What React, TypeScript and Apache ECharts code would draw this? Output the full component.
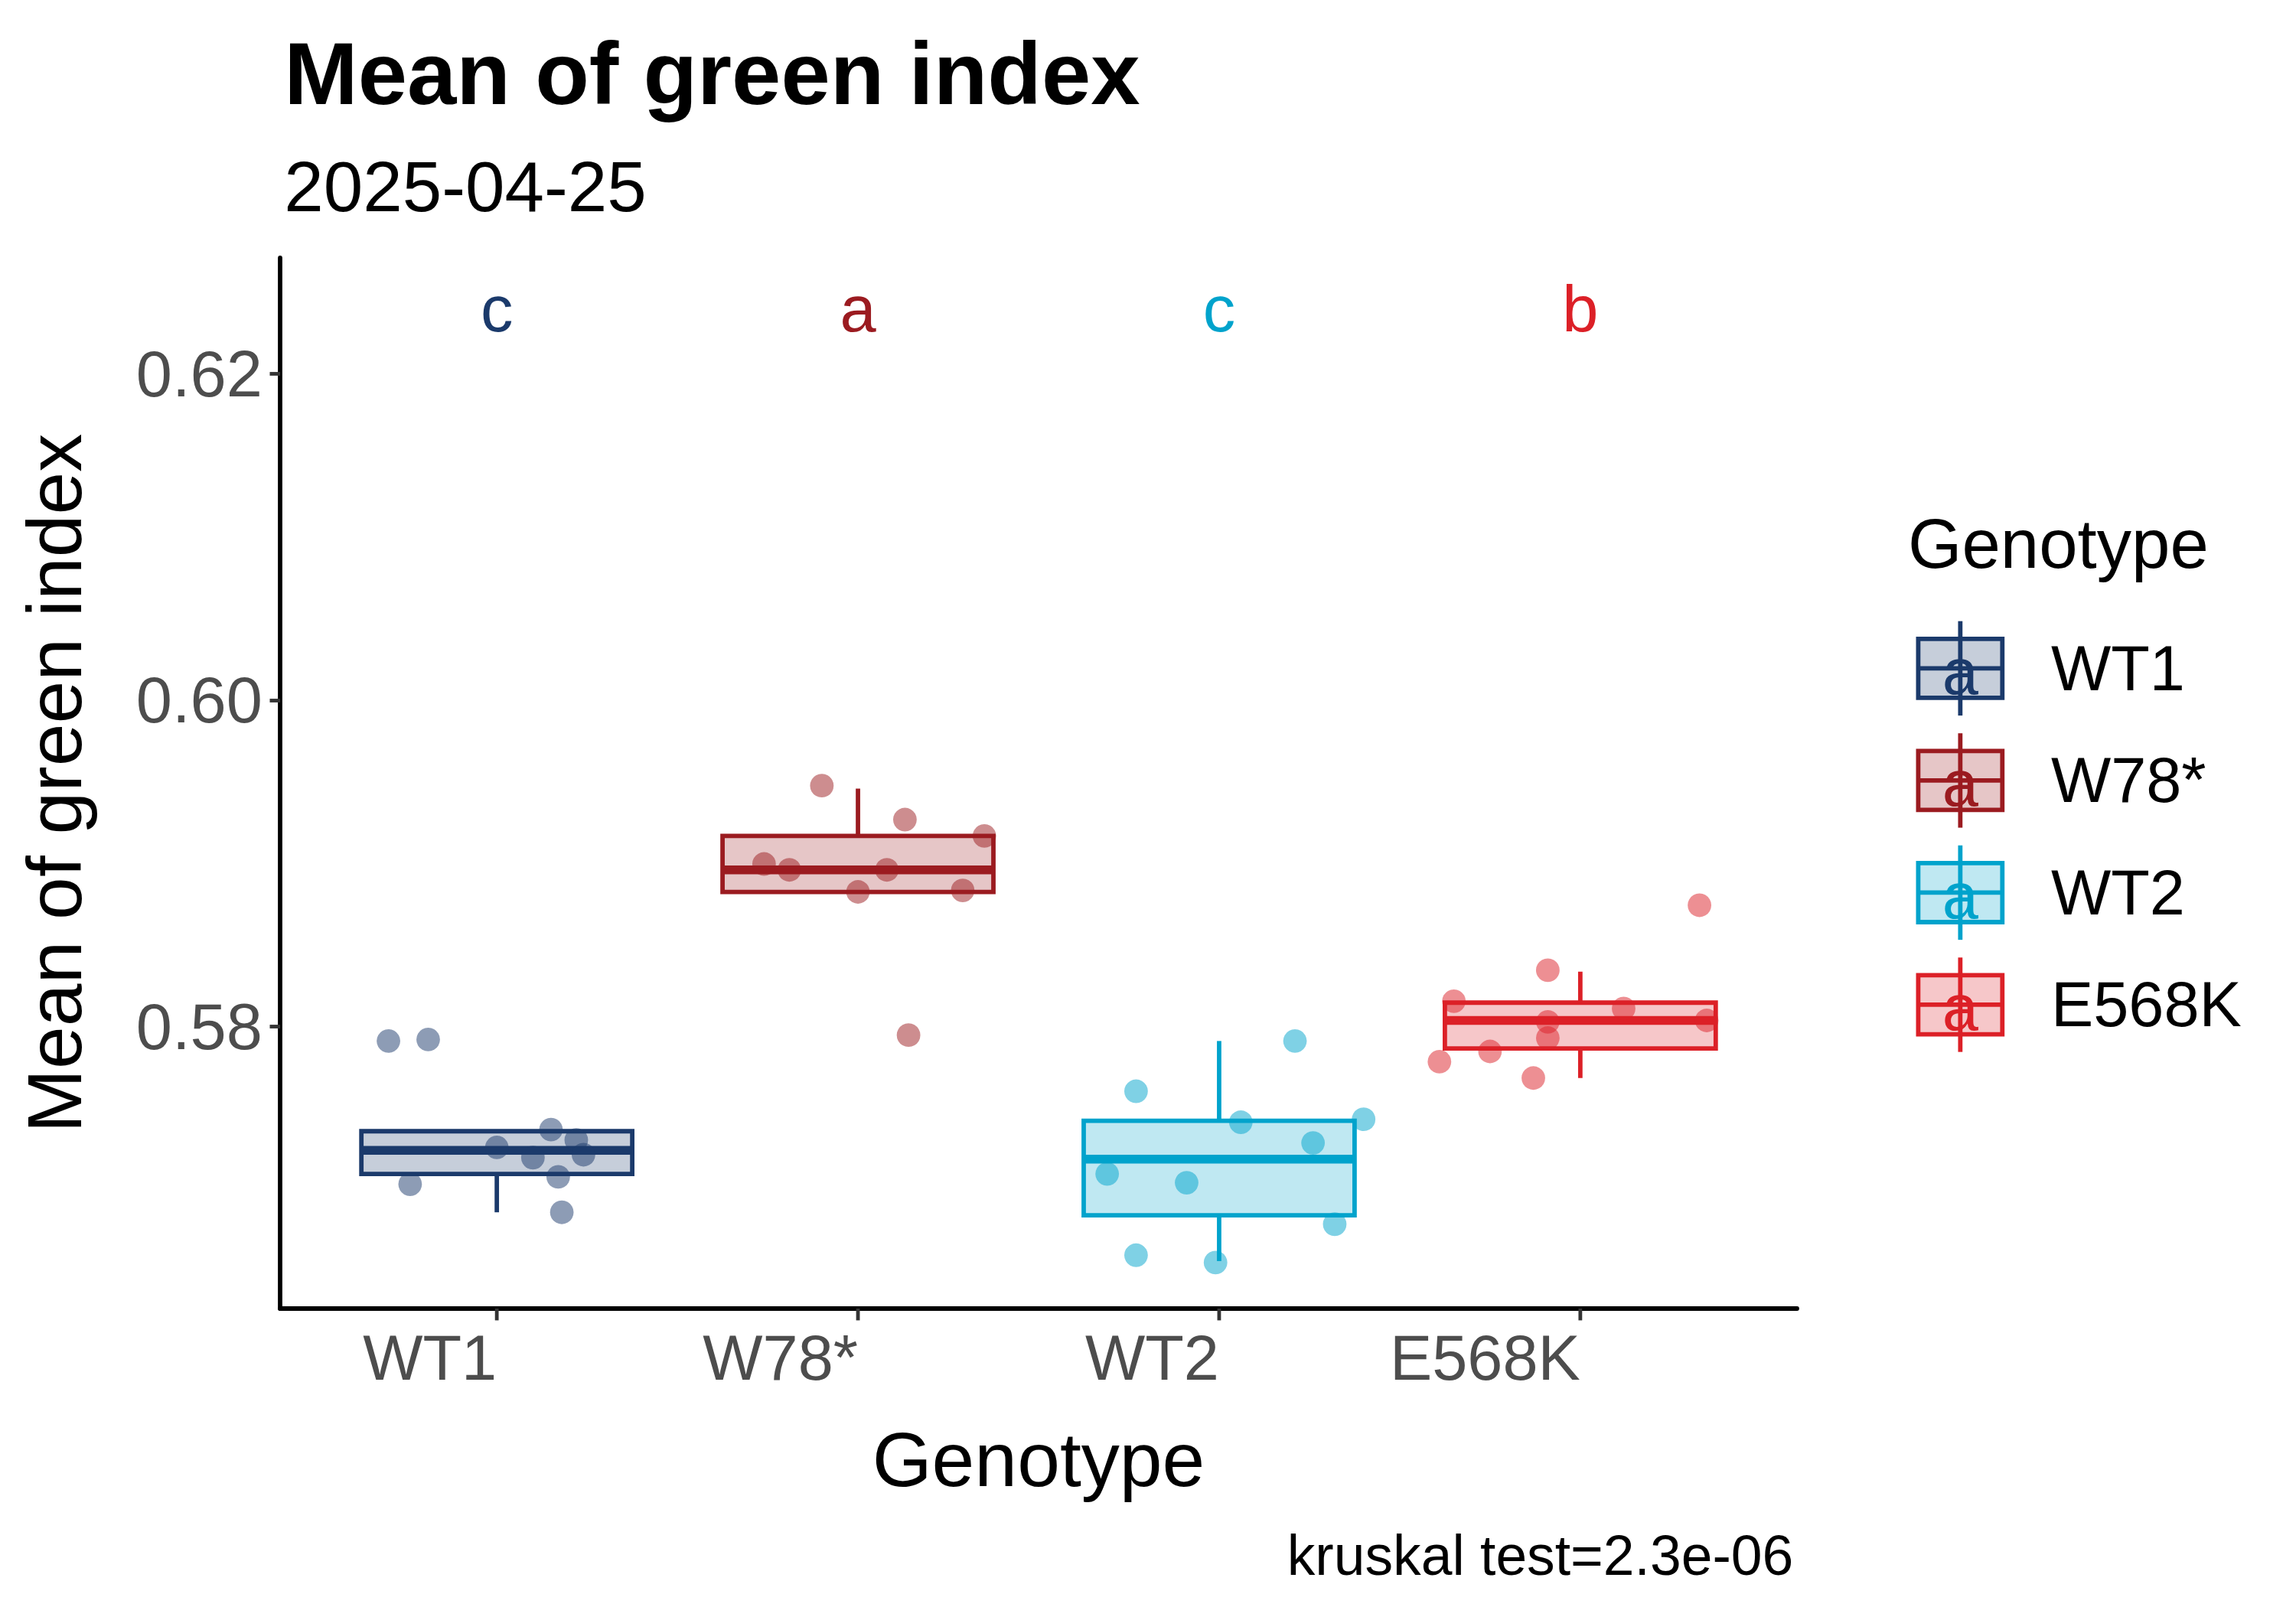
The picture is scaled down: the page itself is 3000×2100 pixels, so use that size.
import { useEffect, useRef } from 'react';
import * as echarts from 'echarts';

const genotypes = ['WT1', 'W78*', 'WT2', 'E568K'];
const colors = ['#1B3A6B', '#9B1B20', '#00A3CC', '#DC2027'];
const fills = ['rgba(27,58,107,0.25)', 'rgba(155,27,32,0.25)', 'rgba(0,163,204,0.25)', 'rgba(220,32,39,0.25)'];
const letters = ['c', 'a', 'c', 'b'];
// [lower whisker, q1, median, q3, upper whisker]
const boxStats = [
  [0.5686, 0.57095, 0.5724, 0.57357, 0.57357],
  [0.58823, 0.58823, 0.58959, 0.59167, 0.59457],
  [0.56561, 0.56842, 0.57186, 0.57421, 0.5791],
  [0.57683, 0.57864, 0.58036, 0.58145, 0.58335],
];
const pointValues = [
  [0.5791, 0.57919, 0.57032, 0.57258, 0.57195, 0.57367, 0.57303, 0.57213, 0.57077, 0.5686],
  [0.59475, 0.58995, 0.58959, 0.58824, 0.58959, 0.59267, 0.58833, 0.59167, 0.57946],
  [0.57602, 0.57095, 0.57041, 0.57412, 0.5791, 0.57285, 0.5743, 0.56787, 0.56597, 0.56552],
  [0.58154, 0.57783, 0.57846, 0.58344, 0.58027, 0.57928, 0.57683, 0.58109, 0.58742, 0.58036],
];
const jitter = [
  [-0.3, -0.19, -0.24, 0.0, 0.1, 0.15, 0.22, 0.24, 0.17, 0.18],
  [-0.1, -0.26, -0.19, 0, 0.08, 0.13, 0.29, 0.35, 0.14],
  [-0.23, -0.31, -0.09, 0.06, 0.21, 0.26, 0.4, 0.32, -0.23, -0.01],
  [-0.35, -0.39, -0.25, -0.09, -0.09, -0.09, -0.13, 0.12, 0.33, 0.35],
];
const yTicks = [0.58, 0.6, 0.62];
const letterY = 0.624;

const S = 1.928;
const FONT = '"Liberation Sans", Arial, sans-serif';

export default function App() {
  const ref = useRef<HTMLDivElement>(null);

  useEffect(() => {
    document.body.style.margin = '0';
    if (!ref.current) return;
    const chart = echarts.init(ref.current, null, { renderer: 'svg' });
    const lw = 3 * S;

    const legend: any[] = [
      { type: 'text', left: 1293 * S, top: 345 * S, style: { text: 'Genotype', font: `${47 * S}px ${FONT}`, fill: '#000' } },
    ];
    genotypes.forEach((g, i) => {
      const cy = (453 + i * 76) * S;
      const x0 = 1300 * S, w = 57 * S, h = 40 * S;
      legend.push(
        { type: 'line', shape: { x1: x0 + w / 2, y1: cy - 32 * S, x2: x0 + w / 2, y2: cy + 32 * S }, style: { stroke: colors[i], lineWidth: lw } },
        { type: 'rect', shape: { x: x0, y: cy - h / 2, width: w, height: h }, style: { fill: fills[i], stroke: colors[i], lineWidth: lw } },
        { type: 'line', shape: { x1: x0, y1: cy, x2: x0 + w, y2: cy }, style: { stroke: colors[i], lineWidth: lw } },
        { type: 'text', x: x0 + w / 2, y: cy + 2 * S, style: { text: 'a', font: `${44 * S}px ${FONT}`, fill: colors[i], align: 'center', verticalAlign: 'middle' } },
        { type: 'text', x: 1390 * S, y: cy, style: { text: g, font: `${43 * S}px ${FONT}`, fill: '#000', verticalAlign: 'middle' } },
      );
    });

    const series: any[] = [
      {
        type: 'custom',
        data: boxStats.map((b, i) => [i + 1, ...b, i]),
        clip: false,
        z: 2,
        renderItem: (params: any, api: any) => {
          const x = api.value(0);
          const i = api.value(6);
          const [xl, y1] = api.coord([x - 0.375, api.value(2)]);
          const [xr, y3] = api.coord([x + 0.375, api.value(4)]);
          const [xc, ym] = api.coord([x, api.value(3)]);
          const ylo = api.coord([x, api.value(1)])[1];
          const yhi = api.coord([x, api.value(5)])[1];
          const st = { stroke: colors[i], lineWidth: lw };
          return {
            type: 'group',
            children: [
              { type: 'line', shape: { x1: xc, y1: ylo, x2: xc, y2: y1 }, style: st },
              { type: 'line', shape: { x1: xc, y1: y3, x2: xc, y2: yhi }, style: st },
              { type: 'rect', shape: { x: xl, y: y3, width: xr - xl, height: y1 - y3 }, style: { ...st, fill: fills[i] } },
              { type: 'line', shape: { x1: xl, y1: ym, x2: xr, y2: ym }, style: { stroke: colors[i], lineWidth: 6 * S } },
            ],
          };
        },
      },
      ...pointValues.map((vals, i) => ({
        type: 'scatter',
        data: vals.map((v, j) => [i + 1 + jitter[i][j], v]),
        symbolSize: 16 * S,
        itemStyle: { color: colors[i], opacity: 0.5 },
        z: 3,
      })),
      {
        type: 'custom',
        data: genotypes.map((g, i) => [i + 1, letterY, i]),
        clip: false,
        renderItem: (params: any, api: any) => {
          const i = api.value(2);
          const [x, y] = api.coord([api.value(0), api.value(1)]);
          return { type: 'text', x, y, style: { text: letters[i], font: `${44 * S}px ${FONT}`, fill: colors[i], align: 'center', verticalAlign: 'middle' } };
        },
      },
      {
        type: 'custom',
        data: genotypes.map((g, i) => [i + 1, 0.5627, i]),
        clip: false,
        renderItem: (params: any, api: any) => {
          const i = api.value(2);
          const [x, y] = api.coord([api.value(0), api.value(1)]);
          return {
            type: 'group',
            children: [
              { type: 'line', shape: { x1: x, y1: y, x2: x, y2: y + 8 * S }, style: { stroke: '#333', lineWidth: 2.5 * S } },
              { type: 'text', x, y: y + 12 * S, style: { text: genotypes[i], font: `${43 * S}px ${FONT}`, fill: '#4D4D4D', align: 'right', verticalAlign: 'top' } },
            ],
          };
        },
      },
    ];

    chart.setOption({
      animation: false,
      backgroundColor: '#fff',
      grid: { left: 366, right: 652, top: 337, bottom: 390 },
      title: [
        { text: 'Mean of green index', left: 190 * S, top: 17 * S, textStyle: { fontSize: 60 * S, fontWeight: 'bold', color: '#000', fontFamily: FONT } },
        { text: '2025-04-25', left: 190 * S, top: 100 * S, textStyle: { fontSize: 48 * S, fontWeight: 'normal', color: '#000', fontFamily: FONT } },
        { text: 'kruskal test=2.3e-06', right: 3000 - 1218 * S, top: 1033 * S, textStyle: { fontSize: 38 * S, fontWeight: 'normal', color: '#000', fontFamily: FONT } },
      ],
      xAxis: {
        type: 'value', min: 0.4, max: 4.6,
        name: 'Genotype', nameLocation: 'middle', nameGap: 76 * S,
        nameTextStyle: { fontSize: 52 * S, color: '#000', fontFamily: FONT },
        axisLine: { lineStyle: { color: '#000', width: 3 * S } },
        axisTick: { show: false }, axisLabel: { show: false }, splitLine: { show: false },
      },
      yAxis: {
        type: 'value', min: 0.5627, max: 0.6271,
        name: 'Mean of green index', nameLocation: 'middle', nameGap: 127 * S,
        nameTextStyle: { fontSize: 52 * S, color: '#000', fontFamily: FONT },
        axisLine: { show: true, lineStyle: { color: '#000', width: 3 * S } },
        axisTick: { show: true, customValues: yTicks, length: 7 * S, lineStyle: { color: '#333', width: 2.5 * S } },
        axisLabel: { customValues: yTicks, formatter: (v: number) => v.toFixed(2), fontSize: 44 * S, color: '#4D4D4D', fontFamily: FONT, margin: 12 * S },
        splitLine: { show: false },
      },
      graphic: legend,
      series,
    });
    return () => chart.dispose();
  }, []);

  return <div ref={ref} style={{ width: 3000, height: 2100 }} />;
}
